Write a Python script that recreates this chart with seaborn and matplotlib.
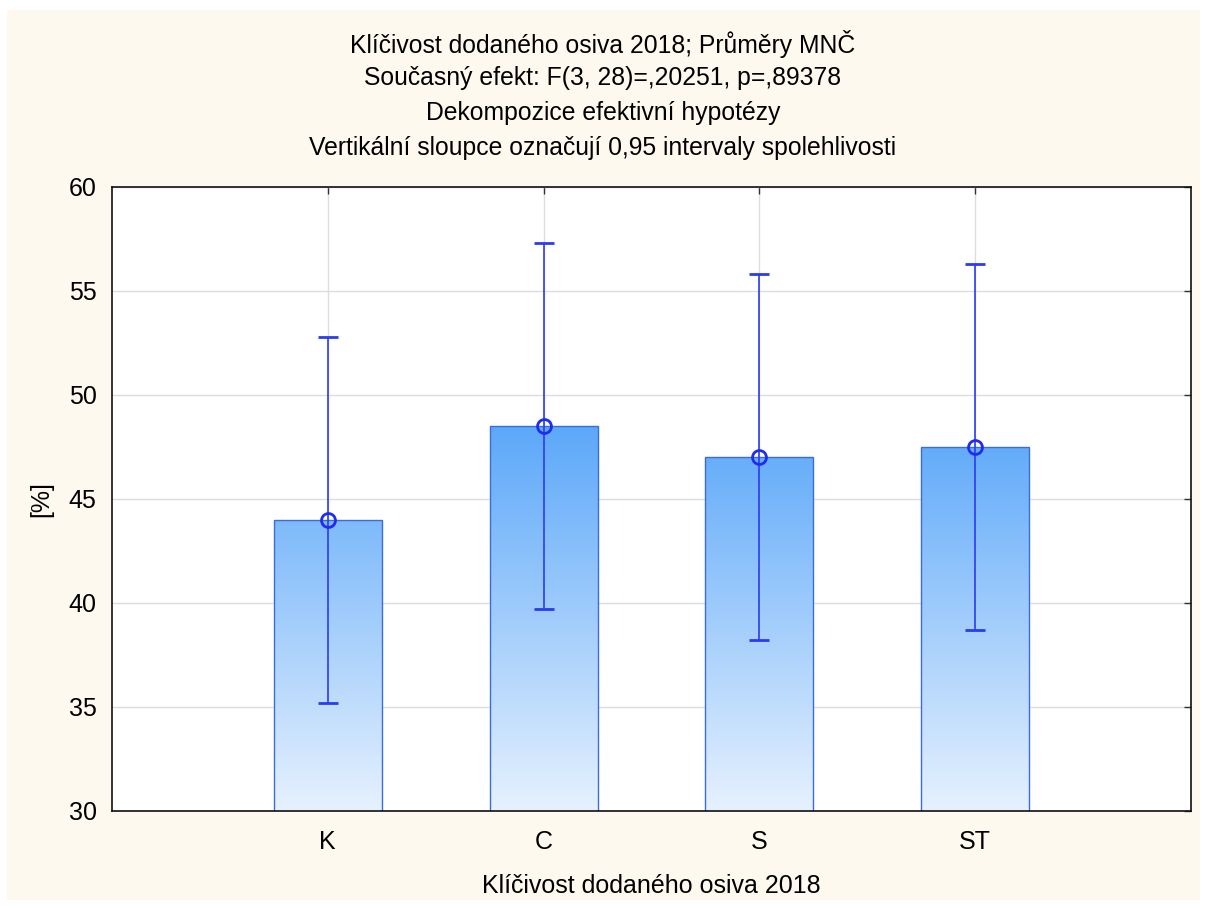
import numpy as np
import pandas as pd
import matplotlib.pyplot as plt
import matplotlib as mpl
from matplotlib.colors import LinearSegmentedColormap
from matplotlib.patches import Rectangle
import seaborn as sns

# data
groups = ['K', 'C', 'S', 'ST']
means = [44.0, 48.5, 47.0, 47.5]
ci_low = [35.2, 39.7, 38.2, 38.7]
ci_high = [52.8, 57.3, 55.8, 56.3]

title_lines = ['Klíčivost dodaného osiva 2018; Průměry MNČ',
               'Současný efekt: F(3, 28)=,20251, p=,89378',
               'Dekompozice efektivní hypotézy',
               'Vertikální sloupce označují 0,95 intervaly spolehlivosti']

sns.set_style('white')
plt.rcParams['font.family'] = ['Liberation Sans', 'DejaVu Sans']
plt.rcParams['text.color'] = 'black'
plt.rcParams['axes.labelcolor'] = 'black'
plt.rcParams['xtick.labelcolor'] = 'black'
plt.rcParams['ytick.labelcolor'] = 'black'

df = pd.DataFrame({'group': groups, 'mean': means})

fig = plt.figure(figsize=(12.06, 9.08), dpi=100, facecolor='white')
# cream panel behind everything
fig.patches.append(Rectangle((7 / 1206, 8 / 908), 1193 / 1206, 890 / 908,
                             transform=fig.transFigure, facecolor='#FDF9EE',
                             edgecolor='none', zorder=-10))
ax = fig.add_axes([112 / 1206, 1 - 811 / 908, 1079 / 1206, 624 / 908])
ax.set_facecolor('white')

sns.barplot(data=df, x='group', y='mean', width=0.5, ax=ax,
            facecolor='none', edgecolor='#3A6CE0', linewidth=1.0, zorder=2)

# gradient fill clipped to each bar
cmap = LinearSegmentedColormap.from_list('grad', ['#E6F1FE', '#5CA8F9'])
grad = np.linspace(0, 1, 256).reshape(-1, 1)
for p in list(ax.patches):
    img = ax.imshow(grad, cmap=cmap, aspect='auto', origin='lower',
                    extent=[-1, 4, 30, 48.5], zorder=1.5)
    img.set_clip_path(p)

x = np.arange(len(groups))
m = np.array(means)
ax.errorbar(x, m, yerr=[m - np.array(ci_low), np.array(ci_high) - m],
            fmt='o', color='#2B3BF2', mfc='none', mec='#1F2BEE', mew=2,
            ms=10, elinewidth=1.2, capsize=7, capthick=1.0, zorder=4)

ax.set_xlim(-1, 4)
ax.set_ylim(30, 60)
ax.set_yticks([30, 35, 40, 45, 50, 55, 60])
ax.grid(True, color='#DDDDDD', linewidth=1.0, zorder=0)
ax.set_axisbelow(True)
ax.tick_params(direction='in', length=5, width=1, color='#333333',
               top=True, right=True, labelsize=18)
ax.tick_params(axis='x', pad=14)
ax.tick_params(axis='y', pad=11)
for s in ax.spines.values():
    s.set_color('#111111')
    s.set_linewidth(1.2)

ax.set_xlabel('Klíčivost dodaného osiva 2018', fontsize=18, labelpad=14)
ax.set_ylabel('[%]', fontsize=18, labelpad=11)

for i, t in enumerate(title_lines):
    fig.text(0.5, 1 - (44 + i * 34.5) / 908, t, ha='center', va='center',
             fontsize=17.8)

fig.savefig('out.png', dpi=100, facecolor='white')
